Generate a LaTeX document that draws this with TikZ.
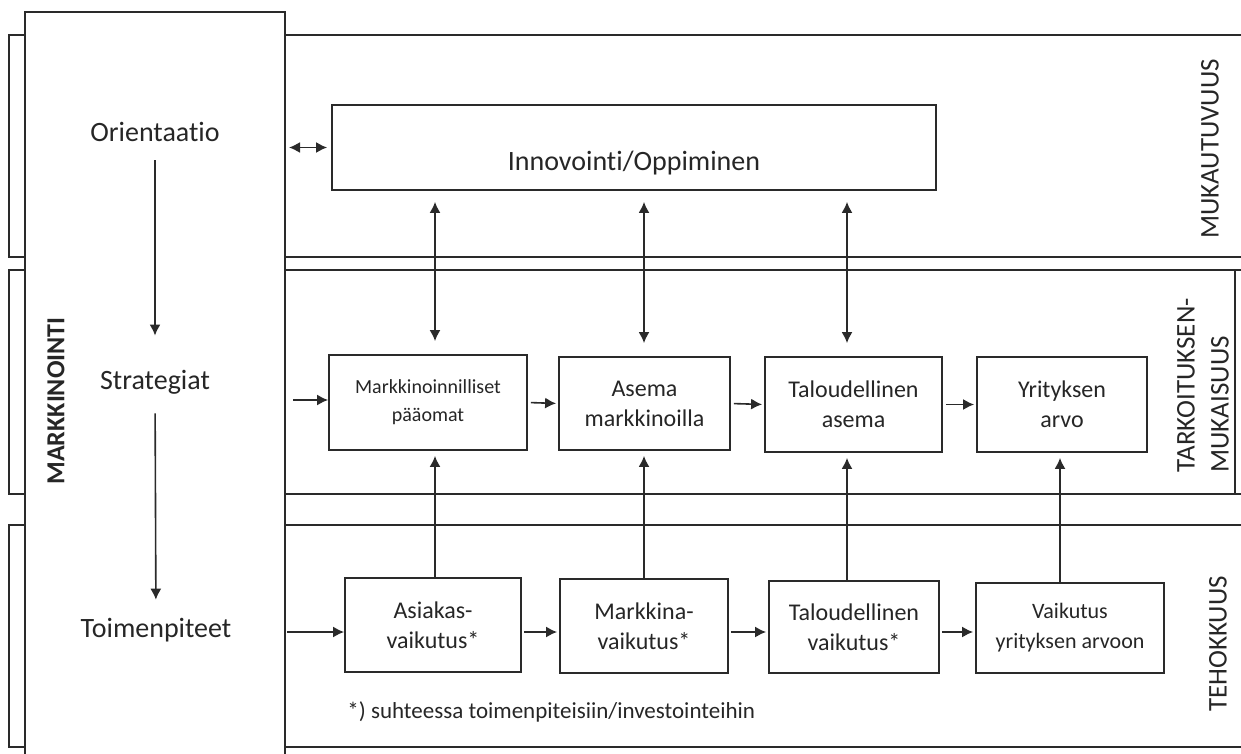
\documentclass[tikz,border=0pt]{standalone}
\usepackage{fontspec}
\setmainfont{Carlito}[Ligatures=NoCommon]
\usetikzlibrary{arrows.meta}
\definecolor{ink}{HTML}{262626}
\definecolor{edge}{HTML}{2A2A2A}
\begin{document}
\begin{tikzpicture}[x=0.5pt,y=-0.5pt,
  box/.style={draw=edge, line width=0.9pt, fill=white, align=center, inner sep=0pt, text=ink},
  lbl/.style={text=ink, inner sep=0pt},
  frame/.style={draw=edge, line width=0.85pt},
  arr/.style={draw=edge, line width=0.8pt, -{Latex[length=5.5pt,width=5.5pt]}},
  dbl/.style={draw=edge, line width=0.8pt, {Latex[length=5.5pt,width=5.5pt]}-{Latex[length=5.5pt,width=5.5pt]}},
  boxfont/.style={font=\fontsize{12}{15}\selectfont},
  sidefont/.style={font=\fontsize{13.5}{17}\selectfont}
]
\useasboundingbox (0,0) rectangle (1241,754);

% left brackets of the three levels
\draw[frame] (25,35) -- (9,35) -- (9,257) -- (25,257);
\draw[frame] (25,270) -- (9,270) -- (9,494) -- (25,494);
\draw[frame] (25,525) -- (9,525) -- (9,747) -- (25,747);

% bands on the right
\draw[frame] (285,35) -- (1241,35);
\draw[frame] (285,257) -- (1241,257);
\draw[frame] (285,270) -- (1241,270);
\draw[frame] (285,494) -- (1241,494);
\draw[frame] (1235,270) -- (1235,494);
\draw[frame] (285,525) -- (1241,525);
\draw[frame] (285,747) -- (1241,747);

% marketing column
\draw[frame] (25,754) -- (25,12) -- (285,12) -- (285,754);
\node[lbl, rotate=90, font=\bfseries\fontsize{13}{16}\selectfont] (mk) at (56,401) {MARKKINOINTI};
\node[lbl, font=\fontsize{14}{17}\selectfont] (orient) at (155,132) {Orientaatio};
\node[lbl, font=\fontsize{14}{17}\selectfont] (strat) at (155,382) {Strategiat};
\node[lbl, font=\fontsize{14}{17}\selectfont] (toim) at (156,630) {Toimenpiteet};
\draw[arr, shorten <=9pt, shorten >=17pt] (orient) -- (strat);
\draw[arr, shorten <=9.5pt, shorten >=9pt] (strat) -- (toim);

% side labels
\node[lbl, rotate=90, sidefont] (muk) at (1210,149) {MUKAUTUVUUS};
\node[lbl, rotate=90, sidefont, align=left, anchor=west] (tark) at (1203,473) {TARKOITUKSEN-\\MUKAISUUS};
\node[lbl, rotate=90, sidefont] (teh) at (1218,644) {TEHOKKUUS};

% innovation box
\node[box, minimum width=302pt, minimum height=42.5pt] (inno) at (634,147.5) {};
\node[lbl, font=\fontsize{14}{17}\selectfont] (innotext) at (634,163) {Innovointi/Oppiminen};

% middle row
\node[box, minimum width=99pt, minimum height=47.5pt, font=\fontsize{10}{14}\selectfont] (pa) at (428,402.5) {Markkinoinnilliset\\pääomat};
\node[box, boxfont, minimum width=85.5pt, minimum height=46.5pt] (am) at (644.5,403.5) {Asema\\markkinoilla};
\node[box, boxfont, minimum width=88.5pt, minimum height=47.5pt] (ta) at (853.5,404.5) {Taloudellinen\\asema};
\node[box, boxfont, minimum width=85pt, minimum height=47.5pt] (ya) at (1062,404.5) {Yrityksen\\arvo};

% bottom row
\node[box, boxfont, minimum width=88pt, minimum height=47pt] (av) at (433,625) {Asiakas-\\vaikutus*};
\node[box, boxfont, minimum width=84pt, minimum height=47pt] (mv) at (644,626) {Markkina-\\vaikutus*};
\node[box, boxfont, minimum width=85pt, minimum height=46pt] (tv) at (854,627) {Taloudellinen\\vaikutus*};
\node[box, font=\fontsize{11}{15}\selectfont, minimum width=94pt, minimum height=45pt] (vy) at (1070,628) {Vaikutus\\yrityksen arvoon};

\node[lbl, anchor=west, font=\fontsize{11.5}{14}\selectfont] (note) at (347,712) {*) suhteessa toimenpiteisiin/investointeihin};

% entry arrows from the marketing column
\coordinate (ein) at (289,147.5);
\coordinate (emid) at (293,400);
\coordinate (ebot) at (287,632);
\draw[dbl, shorten >=2pt] (ein) -- (inno.west |- ein);
\draw[arr] (emid) -- (pa.west |- emid);
\draw[arr] (ebot) -- (av.west |- ebot);

% chains within rows
\draw[arr, shorten <=1.5pt, shorten >=1pt] (pa.east) -- (am.west);
\draw[arr, shorten <=1.5pt, shorten >=1pt] (am.east) -- (ta.west);
\draw[arr, shorten <=1.5pt, shorten >=1pt] (ta.east) -- (ya.west);
\coordinate (rb) at (0,632);
\draw[arr, shorten <=1pt, shorten >=1pt] (av.east |- rb) -- (mv.west |- rb);
\draw[arr, shorten <=1pt, shorten >=1pt] (mv.east |- rb) -- (tv.west |- rb);
\draw[arr, shorten <=1pt, shorten >=1pt] (tv.east |- rb) -- (vy.west |- rb);

% links between levels
\coordinate (c1) at (435,0);
\coordinate (c2) at (644,0);
\coordinate (c3) at (847,0);
\coordinate (c4) at (1060,0);
\draw[dbl, shorten <=5.5pt, shorten >=6.5pt] (inno.south -| c1) -- (pa.north -| c1);
\draw[dbl, shorten <=5.5pt, shorten >=6.5pt] (inno.south -| c2) -- (am.north -| c2);
\draw[dbl, shorten <=5.5pt, shorten >=6.5pt] (inno.south -| c3) -- (ta.north -| c3);
\draw[arr, shorten >=2.5pt] (av.north -| c1) -- (pa.south -| c1);
\draw[arr, shorten >=2.5pt] (mv.north -| c2) -- (am.south -| c2);
\draw[arr, shorten >=2.5pt] (tv.north -| c3) -- (ta.south -| c3);
\draw[arr, shorten >=2.5pt] (vy.north -| c4) -- (ya.south -| c4);
\end{tikzpicture}
\end{document}
